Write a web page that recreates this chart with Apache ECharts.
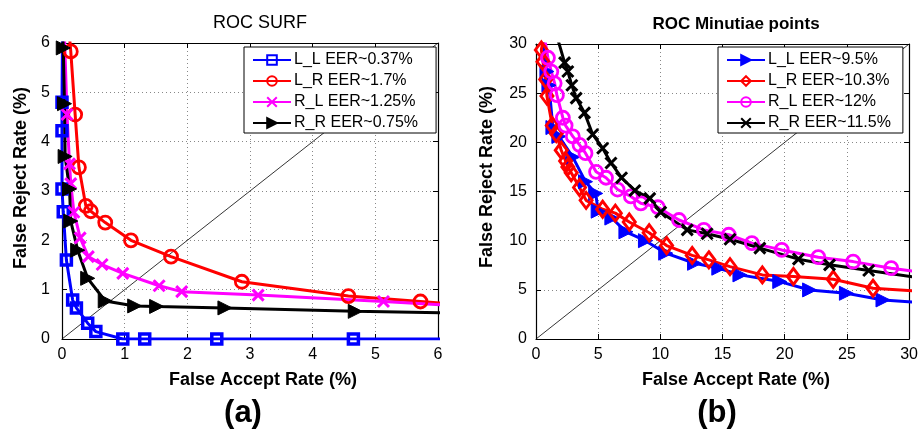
<!DOCTYPE html>
<html><head><meta charset="utf-8">
<script src="https://cdn.jsdelivr.net/npm/echarts/dist/echarts.min.js"></script>
<style>html,body{margin:0;padding:0;background:#fff}#c{width:921px;height:430px}</style>
</head><body><div id="c"></div><script>
// ---------- Data: ROC SURF (a) ----------
const surfRange = [0, 6];
const surfInterval = 1;
// first/last point of each series is an unmarked extension (clipped by the axes)
const surfLL_x = [0.01, 0.0, 0.0, 0.0, 0.02, 0.07, 0.17, 0.23, 0.41, 0.54, 0.97, 1.32, 2.47, 4.65, 6.5];
const surfLL_y = [6.5, 4.8, 4.22, 3.04, 2.58, 1.6, 0.79, 0.63, 0.32, 0.15, 0, 0, 0, 0, 0];
const surfLR_x = [0.115, 0.14, 0.21, 0.27, 0.38, 0.46, 0.69, 1.10, 1.74, 2.87, 4.57, 5.72, 6.5];
const surfLR_y = [6.2, 5.83, 4.55, 3.48, 2.70, 2.59, 2.36, 2.0, 1.67, 1.16, 0.87, 0.76, 0.68];
const surfRL_x = [0.03, 0.08, 0.12, 0.14, 0.19, 0.29, 0.42, 0.64, 0.97, 1.55, 1.91, 3.13, 5.13, 6.5];
const surfRL_y = [6.5, 4.55, 3.55, 3.15, 2.57, 2.05, 1.67, 1.51, 1.33, 1.08, 0.96, 0.89, 0.76, 0.66];
const surfRR_x = [0.01, 0.02, 0.04, 0.05, 0.12, 0.14, 0.25, 0.41, 0.69, 1.16, 1.51, 2.6, 4.68, 6.5];
const surfRR_y = [6.3, 5.9, 4.77, 3.7, 3.04, 2.39, 1.8, 1.23, 0.77, 0.67, 0.66, 0.63, 0.56, 0.52];
const surfNames = ['L_L EER~0.37%', 'L_R EER~1.7%', 'R_L EER~1.25%', 'R_R EER~0.75%'];

// ---------- Data: ROC Minutiae points (b) ----------
const minRange = [0, 30];
const minInterval = 5;
const minLL_x = [0.5, 0.88, 1.04, 1.36, 1.84, 2.96, 3.98, 4.8, 5.0, 6.1, 7.23, 8.8, 10.43, 12.75, 14.7, 16.4, 19.6, 22.0, 24.96, 27.9, 31];
const minLL_y = [31, 27.2, 25.8, 21.5, 20.6, 18.5, 16.0, 14.8, 13.0, 12.3, 10.9, 10.0, 8.73, 7.7, 7.2, 6.52, 5.84, 4.99, 4.65, 3.97, 3.7];
const minLR_x = [0.6, 0.43, 0.56, 0.78, 0.88, 1.31, 1.63, 2.03, 2.38, 2.56, 2.83, 3.5, 4.03, 5.36, 6.38, 7.5, 9.1, 10.5, 12.56, 13.9, 15.6, 18.2, 20.7, 23.9, 27.1, 31];
const minLR_y = [30.5, 29.4, 28.2, 26.4, 24.7, 21.7, 20.9, 19.2, 18.1, 17.5, 16.9, 15.4, 14.1, 13.2, 12.8, 11.9, 10.8, 9.5, 8.5, 8.05, 7.36, 6.52, 6.35, 6.08, 5.16, 4.85];
const minRL_x = [0.7, 0.96, 1.23, 1.5, 1.68, 2.16, 2.38, 2.96, 3.5, 3.98, 4.83, 5.63, 6.56, 7.63, 8.43, 9.8, 11.5, 13.5, 15.5, 17.36, 19.76, 22.7, 25.5, 28.56, 31];
const minRL_y = [30.5, 28.6, 27.2, 26.0, 24.8, 22.5, 21.7, 20.6, 19.75, 18.9, 17.0, 16.4, 15.2, 14.5, 13.8, 13.4, 12.1, 11.1, 10.6, 9.75, 9.06, 8.32, 7.87, 7.2, 6.8];
const minRR_x = [1.75, 2.3, 2.56, 2.88, 3.23, 3.9, 4.56, 5.36, 6.03, 6.88, 7.95, 9.15, 10.03, 12.16, 13.76, 15.6, 18.0, 21.1, 23.6, 26.75, 31];
const minRR_y = [30.5, 28.1, 27.2, 25.8, 24.5, 23.0, 20.8, 19.4, 17.9, 16.4, 15.1, 14.3, 12.9, 11.1, 10.7, 10.15, 9.24, 8.12, 7.54, 6.96, 6.2];
const minNames = ['L_L EER~9.5%', 'L_R EER~10.3%', 'R_L EER~12%', 'R_R EER~11.5%'];

// ---------- Styles ----------
const FONT = 'Liberation Sans, Arial, sans-serif';
const BLUE = '#0000ff', RED = '#ff0000', MAG = '#ff00ff', BLK = '#000000';
const SYM_TRI_R = 'path://M0,0L10,5L0,10Z';
const SYM_X = 'path://M0,0L10,10M10,0L0,10';

function pts(xs, ys) {
  const n = xs.length;
  return xs.map((x, i) => (i === 0 || i === n - 1) ? { value: [x, ys[i]], symbol: 'none' } : [x, ys[i]]);
}

function mkSeries(name, xs, ys, color, sym, gi) {
  const base = {
    name, type: 'line', xAxisIndex: gi * 2, yAxisIndex: gi * 2,
    data: pts(xs, ys), clip: true, animation: false,
    lineStyle: { color, width: 3 },
    showAllSymbol: true, z: 3
  };
  if (sym === 'rect') Object.assign(base, { symbol: 'rect', symbolSize: 10, itemStyle: { color: 'none', borderColor: color, borderWidth: 3.5 } });
  if (sym === 'circle') Object.assign(base, { symbol: 'circle', symbolSize: 13, itemStyle: { color: 'none', borderColor: color, borderWidth: 2.8 } });
  if (sym === 'tri') Object.assign(base, { symbol: SYM_TRI_R, symbolSize: 14, itemStyle: { color, borderColor: color, borderWidth: 1 } });
  if (sym === 'x') Object.assign(base, { symbol: SYM_X, symbolSize: 11, itemStyle: { color: 'none', borderColor: color, borderWidth: 3 } });
  if (sym === 'diamond') Object.assign(base, { symbol: 'diamond', symbolSize: [12, 16], itemStyle: { color: 'none', borderColor: color, borderWidth: 3 } });
  return base;
}

function diag(range, gi) {
  return { type: 'line', xAxisIndex: gi * 2, yAxisIndex: gi * 2, data: [[range[0], range[0]], [range[1], range[1]]],
    symbol: 'none', lineStyle: { color: '#000', width: 0.8 }, silent: true, z: 2, animation: false };
}

function xAxes(range, interval, gi) {
  return [
    { gridIndex: gi, type: 'value', min: range[0], max: range[1], interval, position: 'bottom',
      axisLine: { show: true, onZero: false, lineStyle: { color: '#000', width: 1.2 } },
      axisTick: { show: true, inside: true, length: 5, lineStyle: { color: '#000' } },
      axisLabel: { color: '#000', fontSize: 16, fontFamily: FONT, margin: 8 },
      splitLine: { show: true, lineStyle: { color: '#888', type: [1, 3], width: 1 } } },
    { gridIndex: gi, type: 'value', min: range[0], max: range[1], interval, position: 'top',
      axisLine: { show: true, onZero: false, lineStyle: { color: '#000', width: 1.2 } },
      axisTick: { show: true, inside: true, length: 5, lineStyle: { color: '#000' } },
      axisLabel: { show: false }, splitLine: { show: false } }
  ];
}
function yAxes(range, interval, gi, margin) {
  return [
    { gridIndex: gi, type: 'value', min: range[0], max: range[1], interval, position: 'left',
      axisLine: { show: true, onZero: false, lineStyle: { color: '#000', width: 1.2 } },
      axisTick: { show: true, inside: true, length: 5, lineStyle: { color: '#000' } },
      axisLabel: { color: '#000', fontSize: 16, fontFamily: FONT, margin },
      splitLine: { show: true, lineStyle: { color: '#888', type: [1, 3], width: 1 } } },
    { gridIndex: gi, type: 'value', min: range[0], max: range[1], interval, position: 'right',
      axisLine: { show: true, onZero: false, lineStyle: { color: '#000', width: 1.2 } },
      axisTick: { show: true, inside: true, length: 5, lineStyle: { color: '#000' } },
      axisLabel: { show: false }, splitLine: { show: false } }
  ];
}

function legend(names, left, top, padRight) {
  return {
    data: names, orient: 'vertical', left, top,
    itemWidth: 38, itemHeight: 12, itemGap: 5,
    padding: [5, padRight, 2, 8],
    backgroundColor: '#fff', borderColor: '#000', borderWidth: 1, borderRadius: 0,
    textStyle: { color: '#000', fontSize: 16, fontFamily: FONT, lineHeight: 16, padding: [0, 0, 0, -2] },
    selectedMode: false, z: 10
  };
}

function txt(text, x, y, size, bold, rot) {
  return { type: 'text', x, y, rotation: rot || 0, z: 20,
    style: { text, fill: '#000', font: (bold ? 'bold ' : '') + size + 'px ' + FONT, textAlign: 'center', textVerticalAlign: 'middle' } };
}

const chart = echarts.init(document.getElementById('c'), null, { renderer: 'canvas' });
chart.setOption({
  backgroundColor: '#fff',
  animation: false,
  grid: [
    { left: 62, top: 43, width: 376, height: 296 },
    { left: 536, top: 44, width: 375, height: 295 }
  ],
  xAxis: [...xAxes(surfRange, surfInterval, 0), ...xAxes(minRange, minInterval, 1)],
  yAxis: [...yAxes(surfRange, surfInterval, 0, 12), ...yAxes(minRange, minInterval, 1, 9)],
  legend: [legend(surfNames, 244, 47, 18), legend(minNames, 718, 47, 12)],
  series: [
    diag(surfRange, 0),
    mkSeries(surfNames[0], surfLL_x, surfLL_y, BLUE, 'rect', 0),
    mkSeries(surfNames[1], surfLR_x, surfLR_y, RED, 'circle', 0),
    mkSeries(surfNames[2], surfRL_x, surfRL_y, MAG, 'x', 0),
    mkSeries(surfNames[3], surfRR_x, surfRR_y, BLK, 'tri', 0),
    diag(minRange, 1),
    mkSeries(minNames[0], minLL_x, minLL_y, BLUE, 'tri', 1),
    mkSeries(minNames[1], minLR_x, minLR_y, RED, 'diamond', 1),
    mkSeries(minNames[2], minRL_x, minRL_y, MAG, 'circle', 1),
    mkSeries(minNames[3], minRR_x, minRR_y, BLK, 'x', 1)
  ],
  graphic: [
    txt('ROC SURF', 260, 23, 18, false),
    txt('ROC Minutiae points', 736, 24, 17, true),
    txt('False Accept Rate (%)', 263, 380, 18, true),
    txt('False Accept Rate (%)', 736, 380, 18, true),
    txt('False Reject Rate (%)', 21, 178, 18, true, Math.PI / 2),
    txt('False Reject Rate (%)', 487, 177, 18, true, Math.PI / 2),
    txt('(a)', 243, 413, 31, true),
    txt('(b)', 717, 413, 31, true)
  ]
});
</script></body></html>
